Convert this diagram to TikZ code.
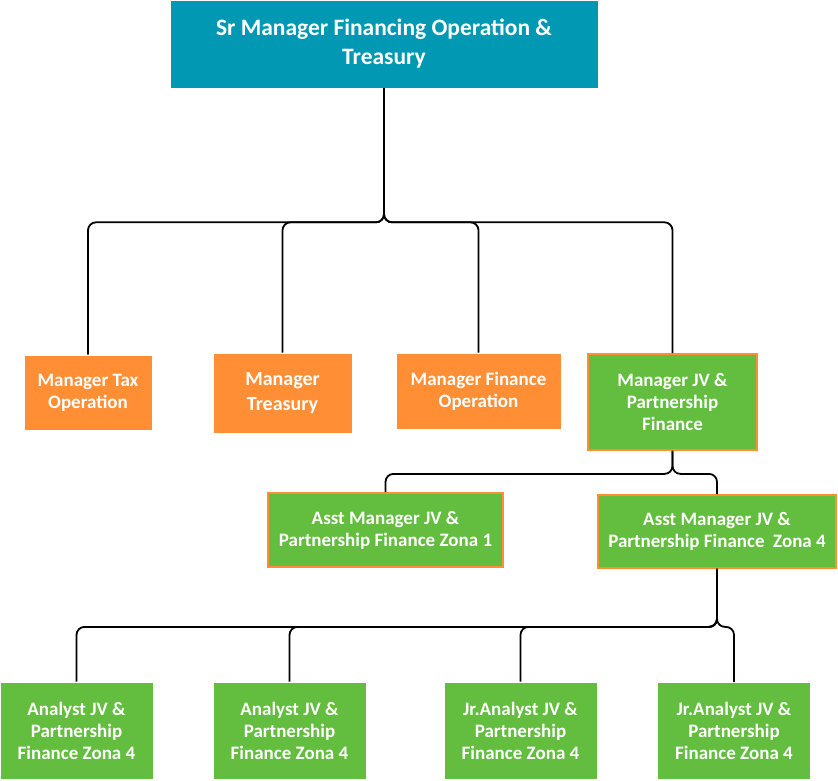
\documentclass[tikz,border=0pt]{standalone}
\usepackage{fontspec}
\setmainfont{Carlito}
\definecolor{teal}{RGB}{0,152,178}
\definecolor{orange}{RGB}{255,142,52}
\definecolor{green}{RGB}{99,189,62}
\begin{document}
\begin{tikzpicture}[x=1pt,y=-1pt,
  box/.style={draw=white, line width=0.6pt, text=white, align=center,
    font=\bfseries\fontsize{19}{22}\selectfont, inner sep=0pt},
  mgr/.style={box, fill=orange},
  jv/.style={box, fill=green, draw=orange, line width=1.8pt},
  staff/.style={box, fill=green, minimum width=153pt, minimum height=97pt},
  conn/.style={draw, line width=1.8pt, rounded corners=8pt}]
\useasboundingbox (0,0) rectangle (838,780);

\node[box, fill=teal, minimum width=428pt, minimum height=88pt,
  font=\bfseries\fontsize{23.5}{29}\selectfont] (sr) at (384,44)
  {Sr Manager Financing Operation \&\\Treasury};

\node[mgr, minimum width=128pt, minimum height=75pt] (tax) at (88,392.5) {Manager Tax\\Operation};
\node[mgr, minimum width=139pt, minimum height=80pt,
  font=\bfseries\fontsize{20}{25}\selectfont] (treas) at (282.5,393) {Manager\\Treasury};
\node[mgr, minimum width=165pt, minimum height=76pt] (finop) at (478.5,391) {Manager Finance\\Operation};
\node[jv, minimum width=169pt, minimum height=96pt] (mjv) at (672.5,402) {Manager JV \&\\Partnership\\Finance};

\node[jv, minimum width=235pt, minimum height=74pt] (asst1) at (385.5,530) {Asst Manager JV \&\\Partnership Finance Zona 1};
\node[jv, minimum width=238pt, minimum height=73pt] (asst4) at (717,531.5) {Asst Manager JV \&\\Partnership Finance~~Zona 4};

\node[staff] (an1) at (76.5,730.5) {Analyst JV \&\\Partnership\\Finance Zona 4};
\node[staff] (an2) at (289.5,730.5) {Analyst JV \&\\Partnership\\Finance Zona 4};
\node[staff] (jr1) at (520.5,730.5) {Jr.Analyst JV \&\\Partnership\\Finance Zona 4};
\node[staff] (jr2) at (734,731) {Jr.Analyst JV \&\\Partnership\\Finance Zona 4};

\path[conn] (sr.south) -- ++(0,134) -| (tax.north);
\path[conn] (sr.south) -- ++(0,134) -| (treas.north);
\path[conn] (sr.south) -- ++(0,134) -| (finop.north);
\path[conn] (sr.south) -- ++(0,134) -| (mjv.north);

\path[conn] (mjv.south) -- ++(0,23) -| (asst1.north);
\path[conn] (mjv.south) -- ++(0,23) -| (asst4.north);

\path[conn] (asst4.south) -- ++(0,58) -| (an1.north);
\path[conn] (asst4.south) -- ++(0,58) -| (an2.north);
\path[conn] (asst4.south) -- ++(0,58) -| (jr1.north);
\path[conn] (asst4.south) -- ++(0,58) -| (jr2.north);
\end{tikzpicture}
\end{document}
